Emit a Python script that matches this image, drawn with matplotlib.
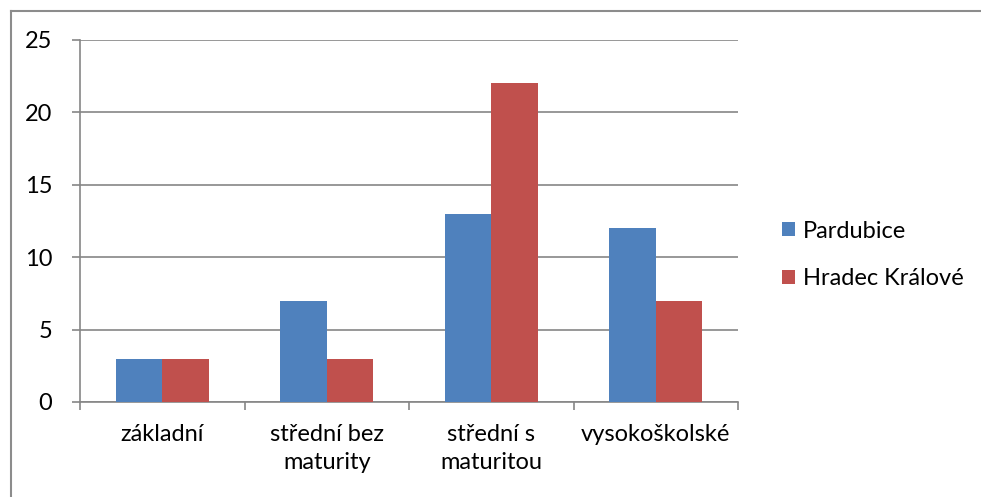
import matplotlib
matplotlib.use("Agg")
import matplotlib.pyplot as plt
from matplotlib.patches import Patch
from matplotlib.lines import Line2D
import numpy as np

plt.rcParams['font.family'] = ['Lato', 'DejaVu Sans']

categories = ["základní", "střední bez\nmaturity", "střední s\nmaturitou", "vysokoškolské"]
series_names = ["Pardubice", "Hradec Králové"]
pardubice = [3, 7, 13, 12]
hradec = [3, 3, 22, 7]
colors = ["#4F81BD", "#C0504D"]
yticks = [0, 5, 10, 15, 20, 25]

W, H = 981, 497
FS = 17
fig = plt.figure(figsize=(W / 100, H / 100), dpi=100)
ax = fig.add_axes([80 / W, 1 - 402 / H, (738 - 80) / W, (402 - 40) / H])

x = np.arange(len(categories))
bw = 0.283
ax.bar(x - bw / 2, pardubice, bw, color=colors[0], zorder=3)
ax.bar(x + bw / 2, hradec, bw, color=colors[1], zorder=3)

ax.set_xlim(-0.5, len(categories) - 0.5)
ax.set_ylim(0, 25)
ax.set_yticks(yticks)
ax.set_yticklabels([str(v) for v in yticks], fontsize=FS)
ax.yaxis.grid(True, color="#868686", linewidth=1.2, zorder=0)
ax.set_axisbelow(True)

ax.set_xticks(np.arange(len(categories) + 1) - 0.5)
ax.set_xticklabels([])
ax.set_xticks(x, minor=True)
ax.set_xticklabels(categories, minor=True, fontsize=FS, linespacing=1.38, va="top")
ax.tick_params(axis="x", which="minor", length=0, pad=16)
ax.tick_params(axis="x", which="major", length=6, width=1.2, color="#868686", direction="out")
ax.tick_params(axis="y", length=6, width=1.2, color="#868686", direction="out", pad=14)

for s in ["top", "right"]:
    ax.spines[s].set_visible(False)
for s in ["left", "bottom"]:
    ax.spines[s].set_color("#868686")
    ax.spines[s].set_linewidth(1.2)

handles = [Patch(facecolor=c, edgecolor="none") for c in colors]
fig.legend(handles, series_names, loc="center left",
           bbox_to_anchor=(761 / W, 1 - 255 / H), frameon=False, fontsize=FS,
           handlelength=0.55, handleheight=0.55, handletextpad=0.34, labelspacing=1.13,
           borderpad=0.4)

# outer chart border
fig.add_artist(Line2D([10.5 / W, 1.0], [1 - 10.5 / H, 1 - 10.5 / H], color="#8c8c8c", linewidth=1.5))
fig.add_artist(Line2D([10.5 / W, 10.5 / W], [0.0, 1 - 10.5 / H], color="#8c8c8c", linewidth=1.5))

fig.savefig("out.png", dpi=100)
